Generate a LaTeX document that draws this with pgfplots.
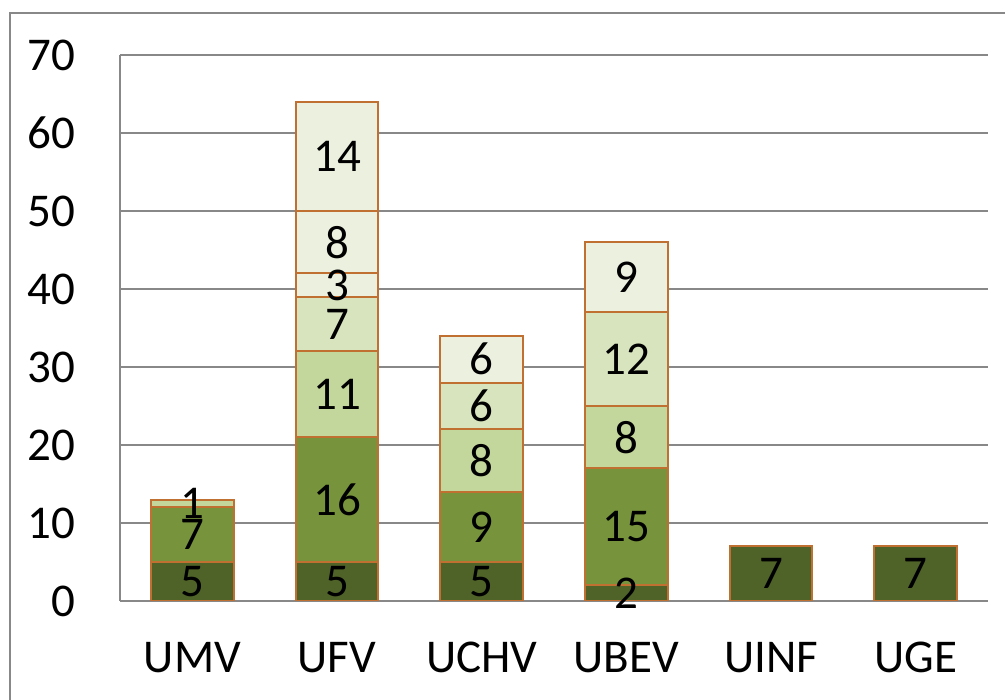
\documentclass[border=0pt]{standalone}
\usepackage{fontspec}
\setmainfont{Carlito}
\usepackage{pgfplots}
\pgfplotsset{compat=1.18}
\definecolor{cA}{RGB}{79,98,40}
\definecolor{cB}{RGB}{119,147,60}
\definecolor{cC}{RGB}{195,214,155}
\definecolor{cD}{RGB}{215,228,189}
\definecolor{cE}{RGB}{235,241,222}
\definecolor{edge}{RGB}{192,112,48}
\definecolor{gridc}{RGB}{136,136,136}
\begin{document}
\begin{tikzpicture}
\useasboundingbox (0,0) rectangle (502.5pt,350pt);
\draw[gridc, line width=0.9pt] (5pt,-5pt) -- (5pt,343.5pt) -- (510pt,343.5pt);
\pgfplotsset{
  common/.style={
    scale only axis, width=434pt, height=273pt,
    at={(60pt,49.5pt)}, anchor=south west,
    xmin=-0.5, xmax=5.5, ymin=0, ymax=70,
    font=\fontsize{23.5}{27}\selectfont,
  }
}
\begin{axis}[common,
  ybar stacked, bar width=0.573,
  axis x line*=bottom, axis y line*=left,
  axis line style={gridc, line width=0.75pt},
  ytick={0,10,...,70}, ymajorgrids,
  grid style={gridc, line width=0.75pt},
  major tick length=0pt,
  xtick={0,1,2,3,4,5},
  xticklabels={UMV,UFV,UCHV,UBEV,UINF,UGE},
  xticklabel style={yshift=-17pt},
  yticklabel style={xshift=-19pt},
  /pgf/number format/assume math mode=true,
  every axis plot/.append style={draw=edge, line width=1pt},
]
\addplot[fill=cA] coordinates {(0,5) (1,5) (2,5) (3,2) (4,7) (5,7)};
\addplot[fill=cB] coordinates {(0,7) (1,16) (2,9) (3,15) (4,0) (5,0)};
\addplot[fill=cC] coordinates {(0,1) (1,11) (2,8) (3,8) (4,0) (5,0)};
\addplot[fill=cD] coordinates {(0,0) (1,7) (2,6) (3,12) (4,0) (5,0)};
\addplot[fill=cE] coordinates {(0,0) (1,3) (2,6) (3,9) (4,0) (5,0)};
\addplot[fill=cE] coordinates {(0,0) (1,8) (2,0) (3,0) (4,0) (5,0)};
\addplot[fill=cE] coordinates {(0,0) (1,14) (2,0) (3,0) (4,0) (5,0)};
\end{axis}
\begin{axis}[common, hide axis,
  every node near coord/.append style={anchor=center, font=\fontsize{23.5}{27}\selectfont},
]
\addplot[draw=none, mark=none, nodes near coords, point meta=explicit symbolic]
  table[meta=v] {
x y v
0 2.5 5
0 8.5 7
0 12.5 1
1 2.5 5
1 13 16
1 26.5 11
1 35.5 7
1 40.5 3
1 46 8
1 57 14
2 2.5 5
2 9.5 9
2 18 8
2 25 6
2 31 6
3 1 2
3 9.5 15
3 21 8
3 31 12
3 41.5 9
4 3.5 7
5 3.5 7
};
\end{axis}
\end{tikzpicture}
\end{document}
